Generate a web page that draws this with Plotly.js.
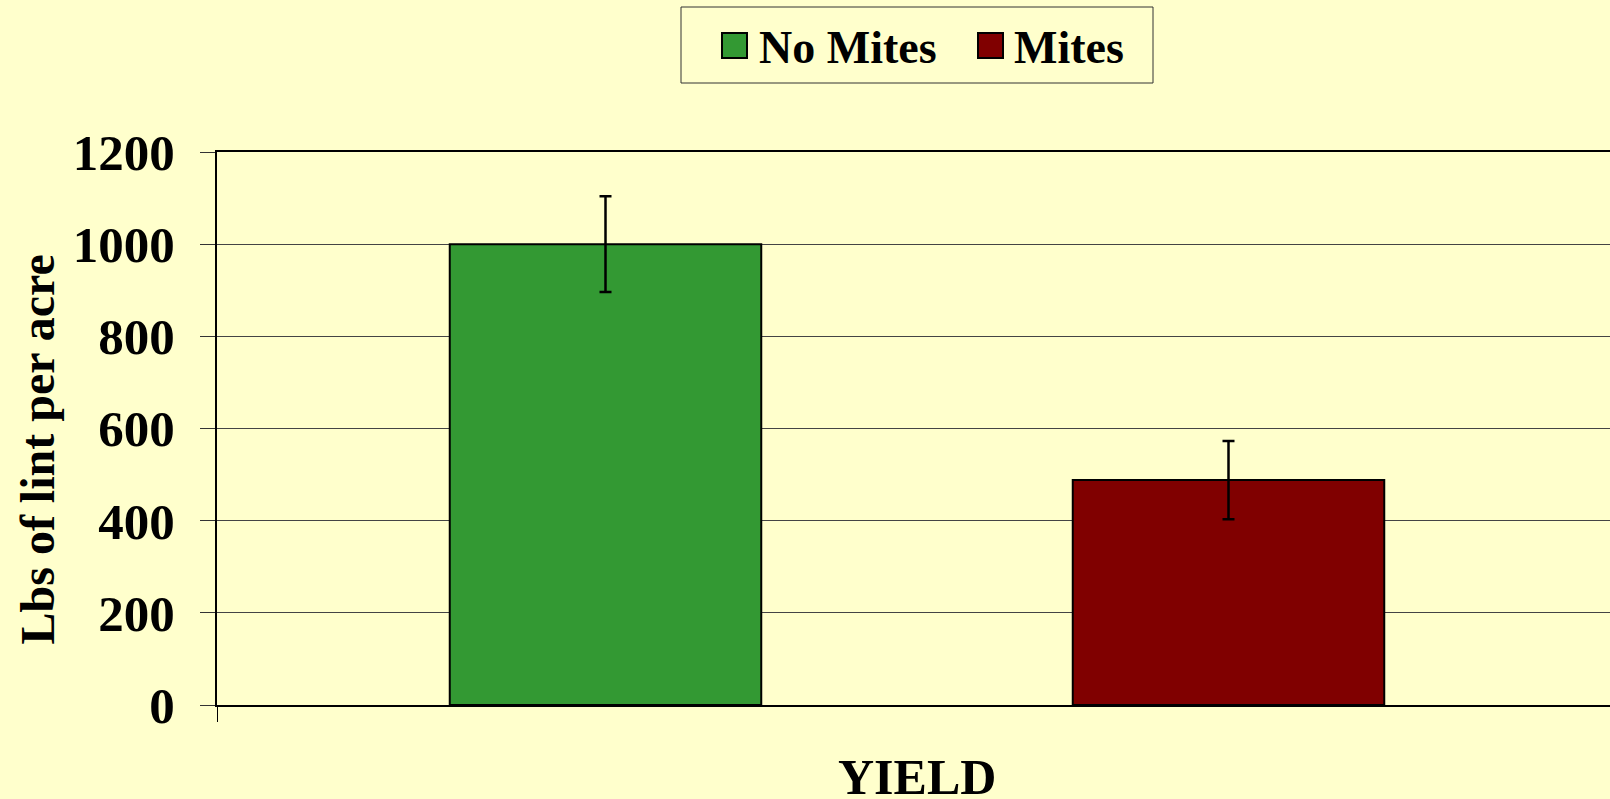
<!DOCTYPE html>
<html>
<head>
<meta charset="utf-8">
<script src="https://cdn.plot.ly/plotly-3.0.1.min.js"></script>
<style>html,body{margin:0;padding:0;background:#FFFFCC;}#chart{width:1610px;height:799px;}</style>
</head>
<body>
<div id="chart"></div>
<script>
const categories = ["YIELD"];
const seriesNames = ["No Mites", "Mites"];
const seriesColors = ["#339933", "#800000"];
const noMites = [1000];
const noMitesErr = [104];
const mites = [488];
const mitesErr = [85];
const yTickVals = [0, 200, 400, 600, 800, 1000, 1200];

const font = "'Liberation Serif', 'Times New Roman', serif";

// pixel -> paper helpers for the plot area (l=217, r=0, t=152, b=94)
const PL = 217, PW = 1393, PB = 705, PH = 553;
const px = v => (v - PL) / PW;
const py = v => (PB - v) / PH;

const traces = [
  {type: 'bar', name: seriesNames[0], x: categories, y: noMites, showlegend: false,
   marker: {color: seriesColors[0], line: {color: '#000000', width: 2}},
   error_y: {type: 'data', array: noMitesErr, visible: true, color: '#000000', thickness: 2.5, width: 6}},
  {type: 'bar', name: seriesNames[1], x: categories, y: mites, showlegend: false,
   marker: {color: seriesColors[1], line: {color: '#000000', width: 2}},
   error_y: {type: 'data', array: mitesErr, visible: true, color: '#000000', thickness: 2.5, width: 6}}
];

// custom legend (box, swatches, labels)
const legendSwatchX = [722, 978];
const legendTextX = [757, 1012];
const shapes = [
  {type: 'rect', xref: 'paper', yref: 'paper', x0: px(681), x1: px(1153), y0: py(83), y1: py(7),
   line: {color: '#333333', width: 1}, fillcolor: '#FFFFCC', layer: 'below'}
];
const annotations = [];
seriesNames.forEach((n, i) => {
  shapes.push({type: 'rect', xref: 'paper', yref: 'paper',
    x0: px(legendSwatchX[i]), x1: px(legendSwatchX[i] + 25), y0: py(58), y1: py(33),
    line: {color: '#000000', width: 2}, fillcolor: seriesColors[i]});
  annotations.push({xref: 'paper', yref: 'paper', x: px(legendTextX[i]), y: py(47),
    xanchor: 'left', yanchor: 'middle', showarrow: false, text: n,
    font: {family: font, size: 46, weight: 'bold', color: '#000000'}});
});
annotations.push({xref: 'paper', yref: 'paper', x: px(37), y: py(449.5),
  xanchor: 'center', yanchor: 'middle', showarrow: false, textangle: -90,
  text: 'Lbs of lint per acre', font: {family: font, size: 48, weight: 'bold', color: '#000000'}});
annotations.push({xref: 'paper', yref: 'paper', x: px(917), y: py(777),
  xanchor: 'center', yanchor: 'middle', showarrow: false,
  text: 'YIELD', font: {family: font, size: 50, weight: 'bold', color: '#000000'}});

const layout = {
  width: 1610, height: 799,
  paper_bgcolor: '#FFFFCC', plot_bgcolor: '#FFFFCC',
  font: {family: font, color: '#000000'},
  margin: {l: 217, r: 0, t: 152, b: 94},
  barmode: 'group', bargap: 0.11, bargroupgap: 0.5,
  showlegend: false,
  shapes: shapes, annotations: annotations,
  xaxis: {type: 'category', showticklabels: false, tickson: 'boundaries', range: [-0.5, 0.495],
          ticks: 'outside', ticklen: 15, tickcolor: '#000000', tickwidth: 1,
          showline: true, mirror: true, linecolor: '#000000', linewidth: 2,
          showgrid: false, zeroline: false, fixedrange: true},
  yaxis: {range: [0, 1200], tickvals: yTickVals, ticktext: yTickVals.map(String),
          ticks: 'outside', ticklen: 15, tickcolor: '#333333', tickwidth: 1,
          ticklabelstandoff: 15,
          tickfont: {family: font, size: 51, weight: 'bold'},
          showline: true, linecolor: '#000000', linewidth: 2,
          showgrid: true, gridcolor: '#444444', gridwidth: 1, zeroline: false}
};

Plotly.newPlot('chart', traces, layout, {staticPlot: true, displayModeBar: false});
</script>
</body>
</html>
